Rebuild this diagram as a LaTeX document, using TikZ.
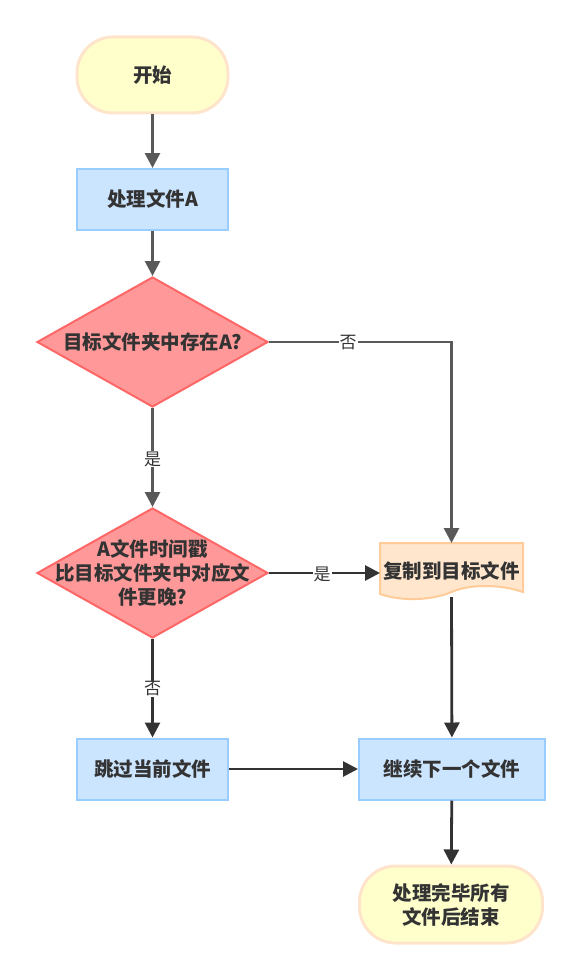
\documentclass[tikz,border=0pt]{standalone}
\usepackage{fontspec}
\setmainfont{Liberation Sans}
\newfontfamily\cjk{Noto Sans CJK SC}
\usetikzlibrary{arrows.meta,shapes.geometric}
\definecolor{txt}{HTML}{333333}
\definecolor{grayline}{HTML}{595959}
\definecolor{darkline}{HTML}{333333}
\definecolor{termfill}{HTML}{FFFFCC}
\definecolor{termdraw}{HTML}{FFE4CC}
\definecolor{procfill}{HTML}{CCE5FF}
\definecolor{procdraw}{HTML}{99CCFF}
\definecolor{decfill}{HTML}{FF9999}
\definecolor{decdraw}{HTML}{FF6666}
\definecolor{docfill}{HTML}{FFE6CC}
\definecolor{docdraw}{HTML}{FFCC99}
\begin{document}
\begin{tikzpicture}[x=1pt,y=-1pt,
  base/.style={font=\cjk\bfseries\fontsize{19.5}{24}\selectfont, text=txt, align=center, inner sep=0pt},
  term/.style={base, draw=termdraw, fill=termfill, line width=3pt, rounded corners=36pt, minimum width=151pt, minimum height=76pt},
  proc/.style={base, draw=procdraw, fill=procfill, line width=2pt, minimum width=151pt, minimum height=61pt},
  dec/.style={draw=decdraw, fill=decfill, line width=2pt, diamond, inner sep=0pt, minimum width=231pt, minimum height=130pt},
  garr/.style={draw=grayline, line width=2.8pt, -{Triangle[length=15pt,width=15pt]}},
  darr/.style={draw=darkline, line width=2.8pt, -{Triangle[length=15pt,width=15pt]}},
  lbl/.style={font=\cjk\fontsize{17}{18}\selectfont, text=txt, fill=white, inner sep=1pt}
]
\useasboundingbox (0,0) rectangle (582,979);
\node[term] (start) at (152.5,75) {开始};
\node[proc] (pa) at (152.5,199.5) {处理文件A};
\node[dec] (d1) at (152.5,342) {};
\node[base] (d1t) at (d1.center) {目标文件夹中存在A?};
\node[dec] (d2) at (152.5,573) {};
\node[base] (d2t) at (d2.center) {A文件时间戳\\比目标文件夹中对应文\\件更晚?};
% document shape
\draw[draw=docdraw, fill=docfill, line width=2pt]
  (380,543) -- (523,543) -- (523,592)
  .. controls (500,584) and (470,584) .. (451.5,592)
  .. controls (433,600) and (403,602) .. (380,594) -- cycle;
\node[base, minimum width=143pt, minimum height=50pt] (copy) at (451.5,571) {复制到目标文件};
\coordinate (copytop) at (451.5,543);
\coordinate (copybot) at (451.5,597);
\node[proc] (skip) at (152.5,769) {跳过当前文件};
\node[proc, minimum width=186pt] (cont) at (452,769) {继续下一个文件};
\node[term, minimum width=183pt, minimum height=77pt] (end) at (451,904.5) {处理完毕所有\\文件后结束};
\coordinate (bend) at (451.5,342);
\coordinate (copyleft) at (380,573);

\draw[garr] (start) -- (pa);
\draw[garr] (pa) -- (d1);
\draw[garr] (d1.east) -- (bend) -- (copytop);
\node[lbl] at (348,343) {否};
\draw[garr] (d1) -- (d2);
\node[lbl] at (152.5,459) {是};
\draw[darr] (d2.east) -- (copyleft);
\node[lbl] at (322,574) {是};
\draw[darr] (d2) -- (skip);
\node[lbl] at (152.5,689) {否};
\draw[darr] (skip) -- (cont);
\draw[darr] (copybot) -- (cont);
\draw[darr] (cont) -- (end);
\end{tikzpicture}
\end{document}
